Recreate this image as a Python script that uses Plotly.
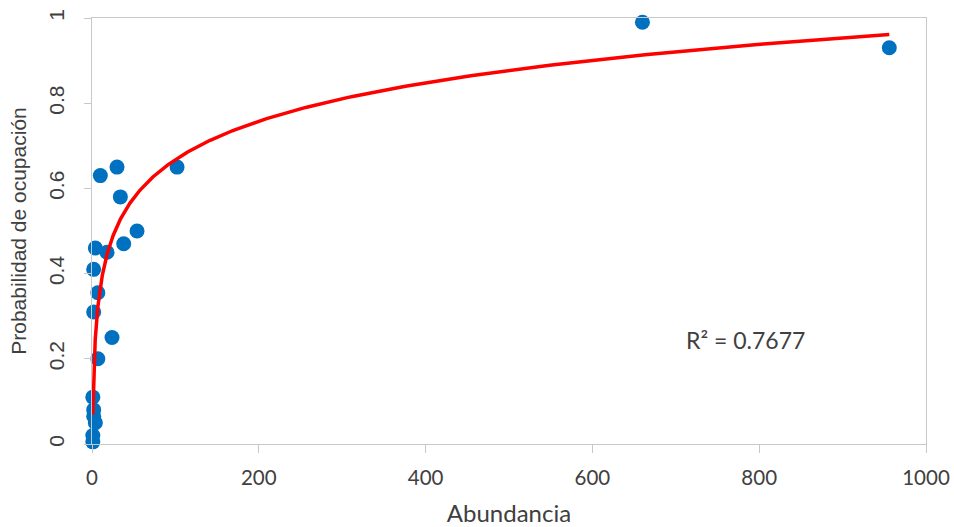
import numpy as np
import plotly.graph_objects as go

# Data
abundancia = [660, 956, 102, 30, 10, 34, 54, 38, 4, 18, 2, 7, 2, 24, 7,
              1, 2, 2, 4, 1, 1]
probabilidad = [0.99, 0.93, 0.65, 0.65, 0.63, 0.58, 0.50, 0.47, 0.46, 0.45, 0.41, 0.355, 0.31, 0.25, 0.20,
                0.11, 0.08, 0.065, 0.05, 0.02, 0.005]

# Logarithmic trend line (Excel): y = a*ln(x) + b
trend_slope = 0.13
trend_intercept = 0.069
r2_label = "R² = 0.7677"

x_ticks = [0, 200, 400, 600, 800, 1000]
y_ticks = [0, 0.2, 0.4, 0.6, 0.8, 1]
y_tick_text = ["0", "0.2", "0.4", "0.6", "0.8", "1"]
x_title = "Abundancia"
y_title = "Probabilidad de ocupación"

tx = np.geomspace(min(abundancia), max(abundancia), 400)
ty = trend_slope * np.log(tx) + trend_intercept

fig = go.Figure()
fig.add_trace(go.Scatter(
    x=abundancia, y=probabilidad, mode="markers",
    marker=dict(color="#0070C0", size=15, line=dict(width=0)),
    cliponaxis=False, showlegend=False, hoverinfo="x+y"))
fig.add_trace(go.Scatter(
    x=tx, y=ty, mode="lines",
    line=dict(color="#FF0000", width=3.5),
    cliponaxis=False, showlegend=False, hoverinfo="skip"))

fig.add_annotation(x=783, y=0.243, xref="x", yref="y", text=r2_label,
                   showarrow=False, font=dict(family="Lato, Liberation Sans", size=23, color="#404040"))

fig.update_layout(
    width=954, height=527,
    margin=dict(l=92, r=28, t=18, b=83),
    paper_bgcolor="white", plot_bgcolor="white",
    xaxis=dict(range=[0, 1000], tickvals=x_ticks, ticktext=[str(v) for v in x_ticks],
               automargin=False, ticklabeloverflow="allow",
               showgrid=False, zeroline=False, showline=True, linecolor="#C8C8C8", linewidth=1,
               mirror=True, ticks="outside", ticklen=8, tickcolor="#C8C8C8",
               ticklabelstandoff=7,
               tickfont=dict(family="Lato, Liberation Sans", size=20.5, color="#404040"),
               title=dict(text=x_title, standoff=23,
                          font=dict(family="Lato, Liberation Sans", size=24, color="#404040"))),
    yaxis=dict(range=[0, 1], tickvals=y_ticks, ticktext=y_tick_text,
               automargin=False, ticklabeloverflow="allow",
               showgrid=False, zeroline=False, showline=True, linecolor="#C8C8C8", linewidth=1,
               mirror=True, ticks="outside", ticklen=7, tickcolor="#C8C8C8", tickangle=-90,
               ticklabelstandoff=12,
               tickfont=dict(family="Liberation Sans, Arial", size=21, color="#404040"),
               title=dict(text=y_title, standoff=12,
                          font=dict(family="Liberation Sans, Arial", size=21, color="#404040"))),
)

fig.write_html("out.html", config={"displayModeBar": False},
               post_script="document.body.style.margin='0';document.body.style.overflow='hidden';")
